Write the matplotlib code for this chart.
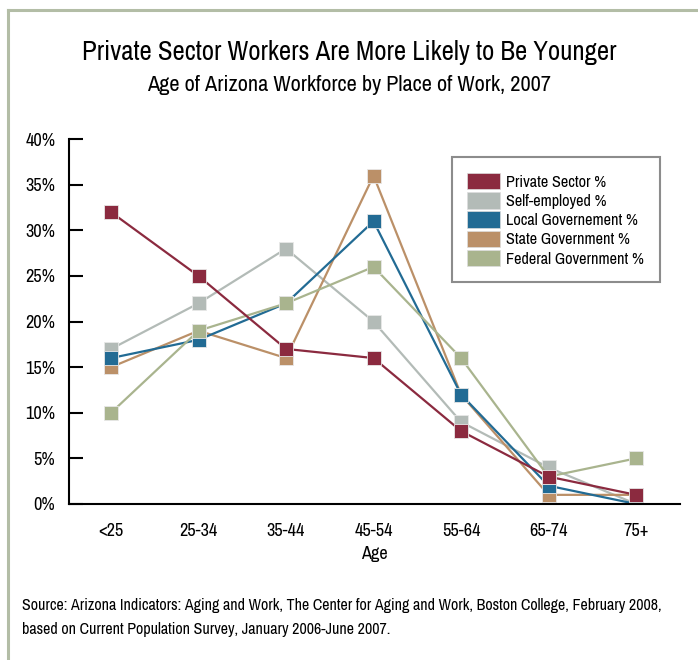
import matplotlib
matplotlib.use('Agg')
import matplotlib.pyplot as plt
from matplotlib import font_manager as fm
from matplotlib.patches import Patch
from matplotlib.lines import Line2D

ages = ['<25', '25-34', '35-44', '45-54', '55-64', '65-74', '75+']
private = [32, 25, 17, 16, 8, 3, 1]
selfemp = [17, 22, 28, 20, 9, 4, 0]
local = [16, 18, 22, 31, 12, 2, 0]
state = [15, 19, 16, 36, 12, 1, 1]
federal = [10, 19, 22, 26, 16, 3, 5]

names = ['Private Sector %', 'Self-employed %', 'Local Governement %',
         'State Government %', 'Federal Government %']
colors = ['#8b2a3f', '#b3bbb7', '#226b94', '#bb9068', '#a9b48e']
series = [private, selfemp, local, state, federal]

# pick a narrow font if one is around
have = set(f.name for f in fm.fontManager.ttflist)
font = 'DejaVu Sans'
for cand in ['Archivo Narrow', 'PT Sans Narrow', 'Roboto Condensed',
             'Liberation Sans Narrow', 'Open Sans Condensed']:
    if cand in have:
        font = cand
        break
plt.rcParams['font.family'] = [font, 'DejaVu Sans']

fig = plt.figure(figsize=(6.98, 6.6), dpi=100)
renderer = fig.canvas.get_renderer()


def fit(t, width_px):
    # scale font so the text is as wide as in the original
    w = t.get_window_extent(renderer).width
    t.set_fontsize(t.get_fontsize() * width_px / w)
    return t.get_fontsize()


ax = fig.add_axes([0.0989, 0.2364, 0.875, 0.5527])

title = fig.text(0.5, 0.921, 'Private Sector Workers Are More Likely to Be Younger',
                 ha='center', va='center', fontsize=20, weight='bold')
fit(title, 533)
sub = fig.text(0.5, 0.871, 'Age of Arizona Workforce by Place of Work, 2007',
               ha='center', va='center', fontsize=16, weight='bold')
fit(sub, 405)
src1 = fig.text(0.032, 0.0833, 'Source: Arizona Indicators: Aging and Work, The Center for Aging and Work, Boston College, February 2008,',
                ha='left', va='center', fontsize=11)
fs = fit(src1, 642)
fig.text(0.032, 0.0455, 'based on Current Population Survey, January 2006-June 2007.',
         ha='left', va='center', fontsize=fs)

probe = fig.text(0, 0, '40%', fontsize=14)
tick_fs = fit(probe, 30)
probe.remove()
probe = fig.text(0, 0, 'Federal Government %', fontsize=11)
leg_fs = fit(probe, 138)
probe.remove()

x = list(range(len(ages)))
order = [1, 3, 2, 4, 0]
for k, i in enumerate(order):
    ax.plot(x, series[i], color=colors[i], lw=1.6, marker='s', ms=9.5,
            mfc=colors[i], mec='#e8e8e8', mew=0.6, zorder=3 + k)

ax.set_xlim(-0.48, 6.5)
ax.set_ylim(0, 40)
ax.set_yticks(range(0, 41, 5))
ax.set_yticklabels(['%d%%' % v for v in range(0, 41, 5)], fontsize=tick_fs)
ax.set_xticks(x)
ax.set_xticklabels(ages, fontsize=tick_fs)
ax.tick_params(axis='y', direction='in', length=10, width=1.5, pad=10)
ax.tick_params(axis='x', length=0, pad=14)
ax.set_xlabel('Age', fontsize=tick_fs, labelpad=5)
for s in ['top', 'right']:
    ax.spines[s].set_visible(False)
for s in ['left', 'bottom']:
    ax.spines[s].set_linewidth(1.5)
ax.spines['bottom'].set_zorder(10)

handles = [Patch(facecolor=c, edgecolor='#dddddd', lw=0.5) for c in colors]
leg = ax.legend(handles, names, loc='upper right', bbox_to_anchor=(0.967, 0.95),
                fontsize=leg_fs, frameon=True, fancybox=False, handlelength=2.0,
                handleheight=1.2, handletextpad=0.4, labelspacing=0.15,
                borderpad=0.95, borderaxespad=0)
leg.get_frame().set_edgecolor('#707070')
leg.get_frame().set_linewidth(1.5)

# frame lines on the left and top edges
fig.add_artist(Line2D([0.0115, 0.0115], [0, 0.985], color='#b3bda6', lw=2.2))
fig.add_artist(Line2D([0.0115, 1], [0.985, 0.985], color='#b3bda6', lw=2.2))

fig.savefig('out.png', dpi=100)
